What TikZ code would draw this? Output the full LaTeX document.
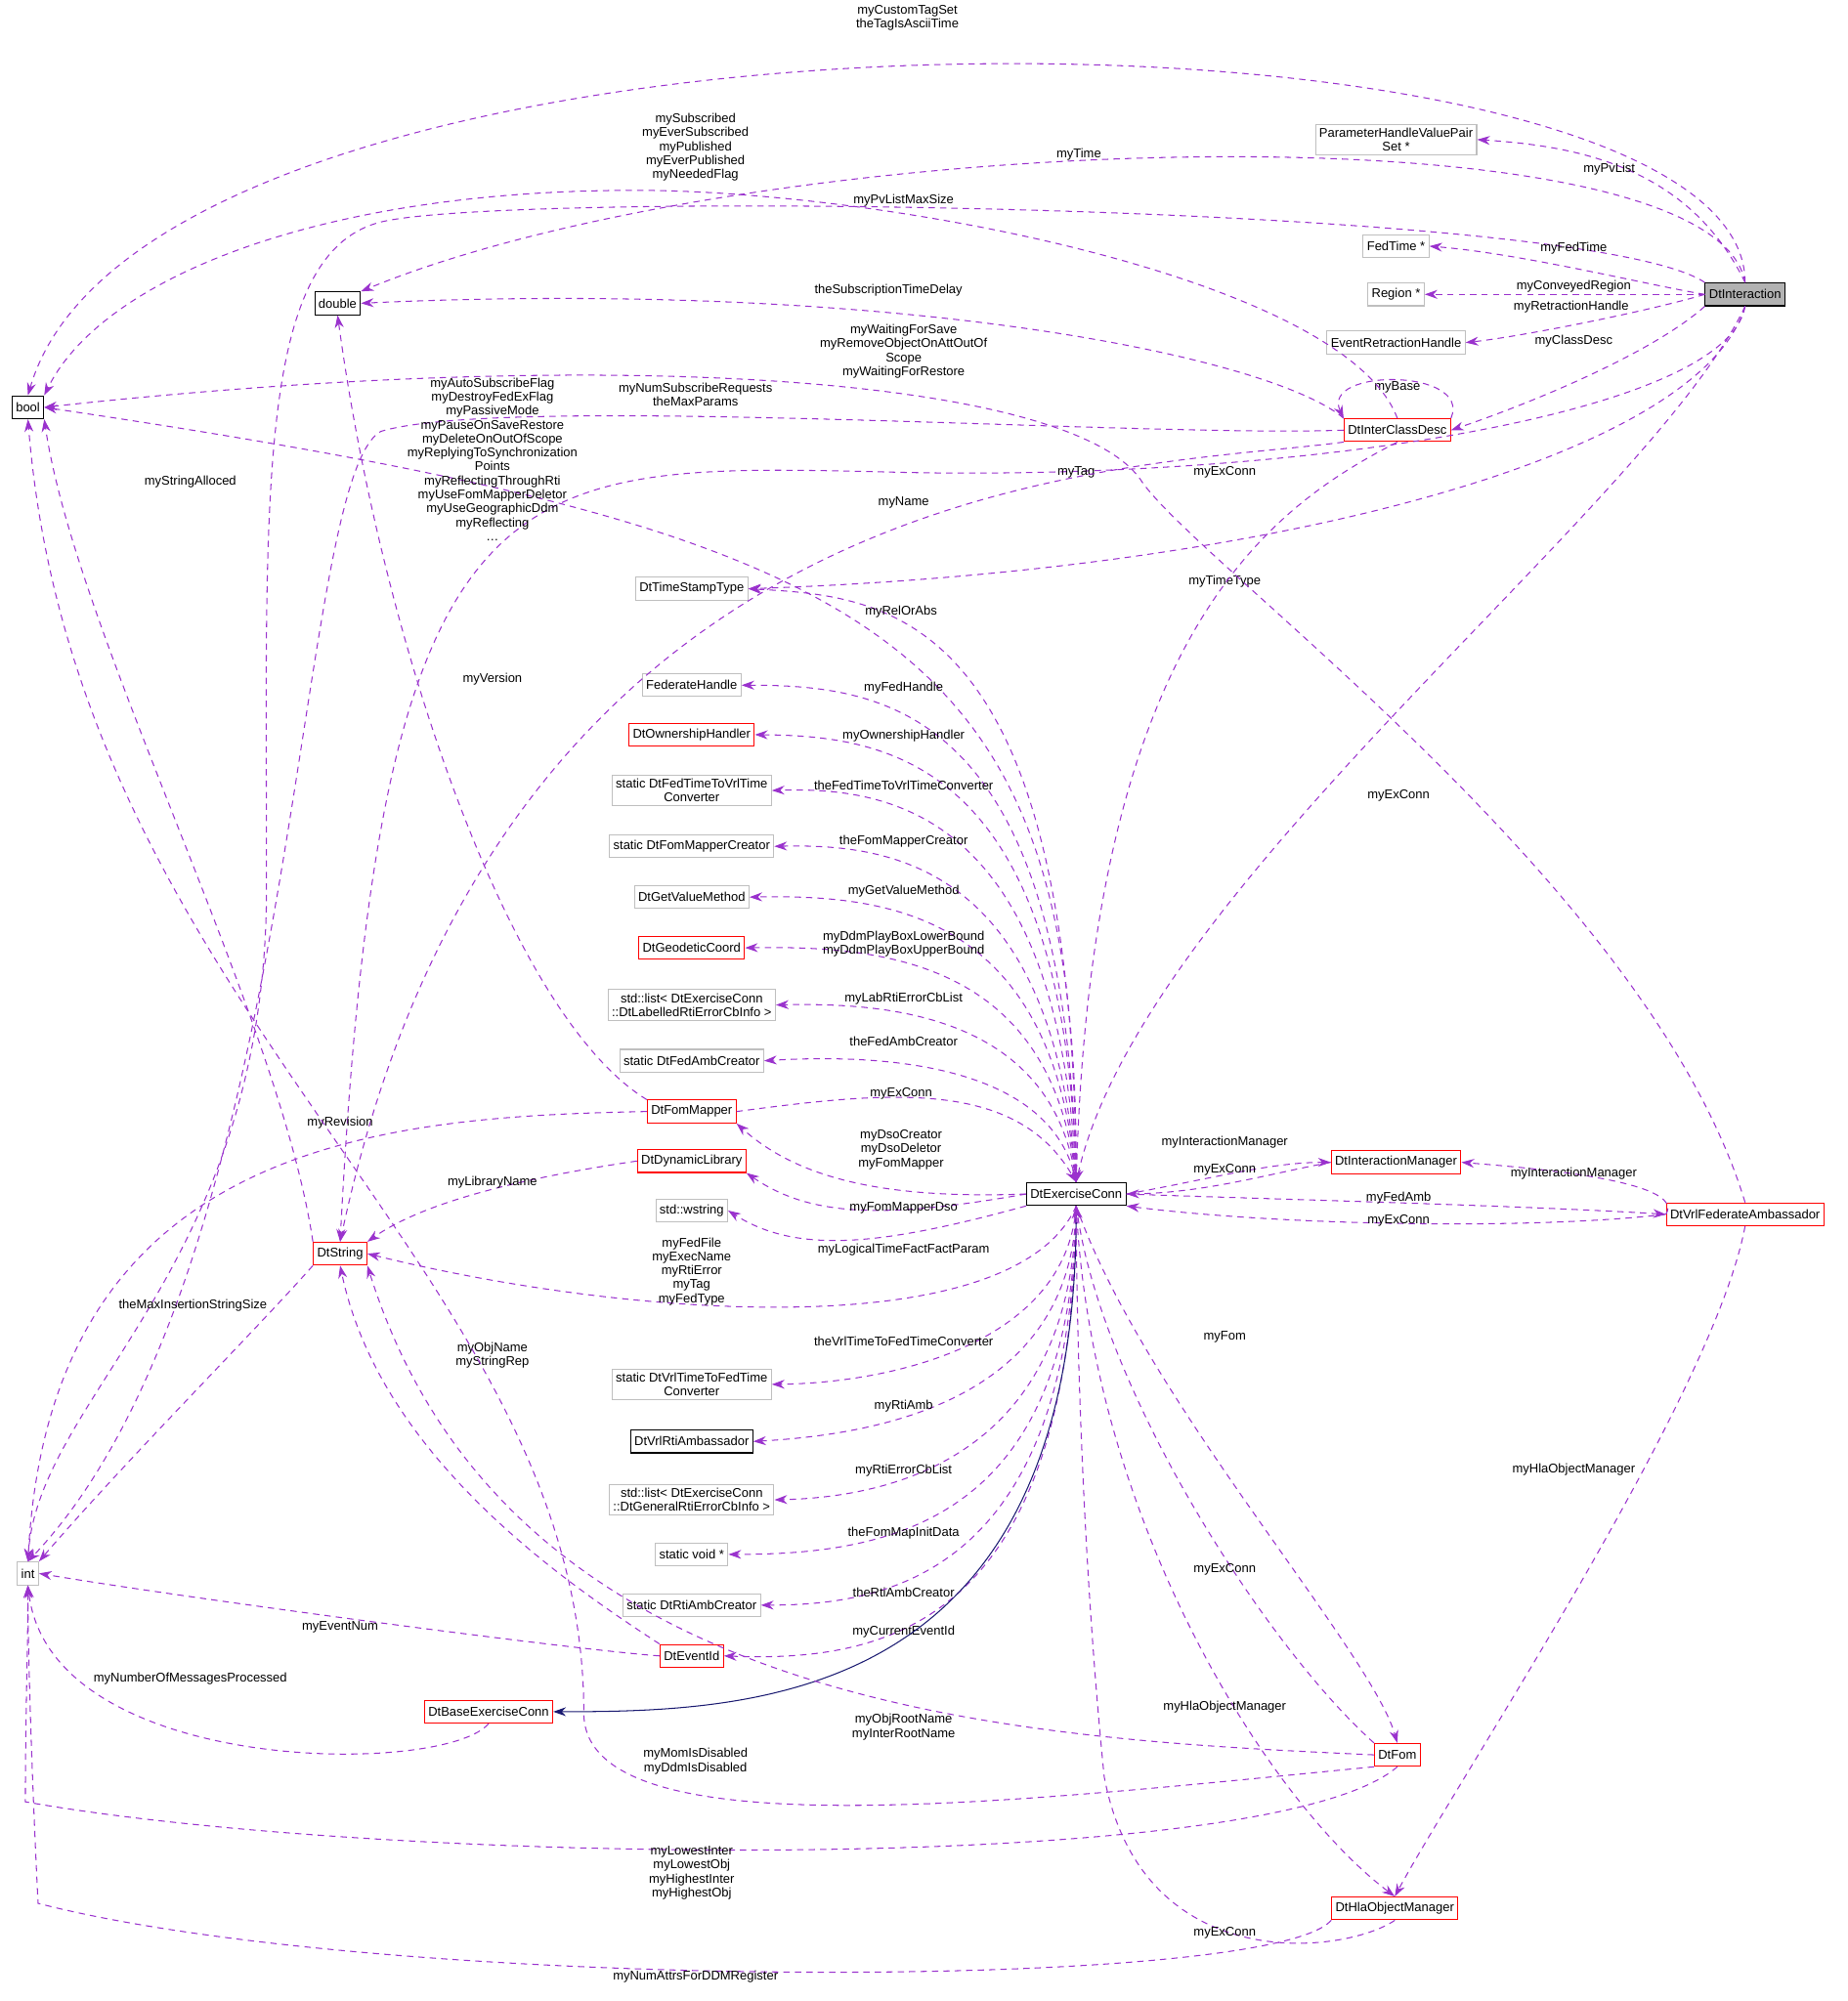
\documentclass[tikz,border=0pt]{standalone}
\usepackage{fontspec}
\setmainfont{Liberation Sans}
\usetikzlibrary{arrows.meta}
\definecolor{edgepurple}{HTML}{9A32CD}
\definecolor{basenavy}{HTML}{191970}
\tikzset{
  cls/.style={draw=black, thick, fill=white, inner sep=3pt, minimum height=18pt, font=\fontsize{10}{11}\selectfont, align=center},
  ext/.style={cls, draw=black!25},
  doc/.style={cls, draw=red},
  rel/.style={draw=edgepurple, dashed, dash pattern=on 5pt off 4pt, thick, -{Stealth[length=10pt,width=7pt]}},
  inh/.style={draw=basenavy, thick, -{Stealth[length=10pt,width=7pt]}},
  lbl/.style={font=\fontsize{10}{11}\selectfont, align=center, inner sep=0pt}
}
\begin{document}
\begin{tikzpicture}[x=1pt,y=-1pt]
\useasboundingbox (0,0) rectangle (1456,1577);
%classes
\node[cls] (bool) at (22,321) {bool};
\node[cls] (double) at (266,239) {double};
\node[ext] (int) at (22,1240) {int};
\node[ext] (pvpair) at (1100,110) {ParameterHandleValuePair\\Set *};
\node[ext] (fedtime) at (1100,194) {FedTime *};
\node[ext] (region) at (1100,232) {Region *};
\node[ext] (retract) at (1100,270) {EventRetractionHandle};
\node[cls, fill=black!30] (inter) at (1375,232) {DtInteraction};
\node[doc] (classdesc) at (1101,339) {DtInterClassDesc};
\node[ext] (stamp) at (545,464) {DtTimeStampType};
\node[ext] (fedhandle) at (545,540) {FederateHandle};
\node[doc] (ownership) at (545,579) {DtOwnershipHandler};
\node[ext] (fed2vrl) at (545,623) {static DtFedTimeToVrlTime\\Converter};
\node[ext] (mapcreator) at (545,667) {static DtFomMapperCreator};
\node[ext] (getvalue) at (545,707) {DtGetValueMethod};
\node[doc] (geodetic) at (545,747) {DtGeodeticCoord};
\node[ext] (lablist) at (545,792) {std::list\textless{} DtExerciseConn\\::DtLabelledRtiErrorCbInfo \textgreater};
\node[ext] (ambcreator) at (545,836) {static DtFedAmbCreator};
\node[doc] (mapper) at (545,876) {DtFomMapper};
\node[doc] (dynlib) at (545,915) {DtDynamicLibrary};
\node[ext] (wstring) at (545,954) {std::wstring};
\node[doc] (dtstring) at (268,988) {DtString};
\node[ext] (vrl2fed) at (545,1091) {static DtVrlTimeToFedTime\\Converter};
\node[cls] (rtiamb) at (545,1136) {DtVrlRtiAmbassador};
\node[ext] (genlist) at (545,1182) {std::list\textless{} DtExerciseConn\\::DtGeneralRtiErrorCbInfo \textgreater};
\node[ext] (voidp) at (545,1225) {static void *};
\node[ext] (rticreator) at (545,1265) {static DtRtiAmbCreator};
\node[doc] (eventid) at (545,1305) {DtEventId};
\node[doc] (baseconn) at (385,1349) {DtBaseExerciseConn};
\node[cls] (exconn) at (848,941) {DtExerciseConn};
\node[doc] (intermgr) at (1100,916) {DtInteractionManager};
\node[doc] (fedamb) at (1375,957) {DtVrlFederateAmbassador};
\node[doc] (fom) at (1101,1383) {DtFom};
\node[doc] (hlamgr) at (1099,1504) {DtHlaObjectManager};
%DtInteraction members
\draw[rel] (inter.north) .. controls (1375,-15) and (120,-25) .. (bool.north);
\node[lbl] at (715,14) {myCustomTagSet\\theTagIsAsciiTime};
\draw[rel] (inter.north) .. controls (1350,80) and (600,100) .. (double.north east);
\node[lbl] at (850,122) {myTime};
\draw[rel] (inter.north) .. controls (1330,130) and (1240,115) .. (pvpair.east);
\node[lbl] at (1268,133) {myPvList};
\draw[rel] (inter.north west) .. controls (1250,160) and (400,150) .. (300,175) .. controls (200,200) and (210,400) .. (210,700) .. controls (210,1000) and (30,1100) .. (int.north);
\node[lbl] at (712,158) {myPvListMaxSize};
\draw[rel] (inter.west) .. controls (1300,225) and (1200,200) .. (fedtime.east);
\node[lbl] at (1240,196) {myFedTime};
\draw[rel] (inter.west) -- (region.east);
\node[lbl] at (1240,226) {myConveyedRegion};
\draw[rel] (inter.west) .. controls (1300,245) and (1200,265) .. (retract.east);
\node[lbl] at (1238,242) {myRetractionHandle};
\draw[rel] (inter.south west) .. controls (1300,280) and (1200,320) .. (classdesc.east);
\node[lbl] at (1240,269) {myClassDesc};
\draw[rel] (inter.south) .. controls (1360,330) and (1000,380) .. (700,372) .. controls (400,365) and (300,360) .. (dtstring.north);
\node[lbl] at (848,372) {myTag};
\draw[rel] (inter.south) .. controls (1340,360) and (1000,450) .. (stamp.east);
\node[lbl] at (965,458) {myTimeType};
\draw[rel] (inter.south) .. controls (1300,400) and (900,700) .. (exconn.north);
\node[lbl] at (1102,627) {myExConn};
%DtInterClassDesc members
\draw[rel] (classdesc.north east) .. controls (1160,290) and (1040,290) .. (classdesc.north west);
\node[lbl] at (1101,305) {myBase};
\draw[rel] (classdesc.north west) .. controls (1000,280) and (700,220) .. (double.east);
\node[lbl] at (700,229) {theSubscriptionTimeDelay};
\draw[rel] (classdesc.north) .. controls (1060,220) and (700,150) .. (500,150) .. controls (250,150) and (80,220) .. (bool.north east);
\node[lbl] at (548,116) {mySubscribed\\myEverSubscribed\\myPublished\\myEverPublished\\myNeededFlag};
\draw[rel] (classdesc.west) .. controls (900,345) and (400,310) .. (300,340) .. controls (230,380) and (240,1000) .. (int.north);
\node[lbl] at (548,311) {myNumSubscribeRequests\\theMaxParams};
\draw[rel] (classdesc.south west) .. controls (900,370) and (400,360) .. (dtstring.north);
\node[lbl] at (712,396) {myName};
\draw[rel] (classdesc.south) .. controls (1000,400) and (860,500) .. (exconn.north);
\node[lbl] at (965,372) {myExConn};
%DtExerciseConn members
\draw[rel] (exconn.north) .. controls (850,500) and (700,420) .. (bool.east);
\node[lbl] at (388,362) {myAutoSubscribeFlag\\myDestroyFedExFlag\\myPassiveMode\\myPauseOnSaveRestore\\myDeleteOnOutOfScope\\myReplyingToSynchronization\\Points\\myReflectingThroughRti\\myUseFomMapperDeletor\\myUseGeographicDdm\\myReflecting\\\ldots};
\draw[rel] (exconn.north) .. controls (845,480) and (700,470) .. (stamp.east);
\node[lbl] at (710,482) {myRelOrAbs};
\draw[rel] (exconn.north) .. controls (840,560) and (700,540) .. (fedhandle.east);
\node[lbl] at (712,542) {myFedHandle};
\draw[rel] (exconn.north) .. controls (840,600) and (700,580) .. (ownership.east);
\node[lbl] at (712,580) {myOwnershipHandler};
\draw[rel] (exconn.north) .. controls (835,640) and (700,620) .. (fed2vrl.east);
\node[lbl] at (712,619) {theFedTimeToVrlTimeConverter};
\draw[rel] (exconn.north) .. controls (830,680) and (700,665) .. (mapcreator.east);
\node[lbl] at (712,663) {theFomMapperCreator};
\draw[rel] (exconn.north) .. controls (830,720) and (700,705) .. (getvalue.east);
\node[lbl] at (712,702) {myGetValueMethod};
\draw[rel] (exconn.north) .. controls (830,760) and (700,745) .. (geodetic.east);
\node[lbl] at (712,744) {myDdmPlayBoxLowerBound\\myDdmPlayBoxUpperBound};
\draw[rel] (exconn.north) .. controls (830,800) and (700,790) .. (lablist.east);
\node[lbl] at (712,787) {myLabRtiErrorCbList};
\draw[rel] (exconn.north) .. controls (830,840) and (700,830) .. (ambcreator.east);
\node[lbl] at (712,821) {theFedAmbCreator};
\draw[rel] (mapper.east) .. controls (700,860) and (800,850) .. (exconn.north);
\node[lbl] at (710,862) {myExConn};
\draw[rel] (exconn.west) .. controls (700,945) and (630,930) .. (mapper.south east);
\node[lbl] at (710,906) {myDsoCreator\\myDsoDeletor\\myFomMapper};
\draw[rel] (exconn.west) .. controls (700,960) and (640,960) .. (dynlib.south east);
\node[lbl] at (712,952) {myFomMapperDso};
\draw[rel] (exconn.south west) .. controls (700,980) and (630,990) .. (wstring.east);
\node[lbl] at (712,985) {myLogicalTimeFactFactParam};
\draw[rel] (exconn.south) .. controls (800,1060) and (500,1040) .. (dtstring.east);
\node[lbl] at (545,1002) {myFedFile\\myExecName\\myRtiError\\myTag\\myFedType};
\draw[rel] (exconn.south) .. controls (840,1060) and (700,1090) .. (vrl2fed.east);
\node[lbl] at (712,1057) {theVrlTimeToFedTimeConverter};
\draw[rel] (exconn.south) .. controls (845,1100) and (700,1130) .. (rtiamb.east);
\node[lbl] at (712,1108) {myRtiAmb};
\draw[rel] (exconn.south) .. controls (845,1150) and (700,1180) .. (genlist.east);
\node[lbl] at (712,1159) {myRtiErrorCbList};
\draw[rel] (exconn.south) .. controls (845,1200) and (700,1225) .. (voidp.east);
\node[lbl] at (712,1208) {theFomMapInitData};
\draw[rel] (exconn.south) .. controls (845,1240) and (700,1265) .. (rticreator.east);
\node[lbl] at (712,1255) {theRtiAmbCreator};
\draw[rel] (exconn.south) .. controls (845,1280) and (700,1310) .. (eventid.east);
\node[lbl] at (712,1286) {myCurrentEventId};
\draw[inh] (exconn.south) .. controls (850,1340) and (600,1349) .. (baseconn.east);
\draw[rel] (exconn.east) .. controls (950,930) and (1000,916) .. (intermgr.west);
\node[lbl] at (965,900) {myInteractionManager};
\draw[rel] (intermgr.west) .. controls (1000,925) and (950,940) .. (exconn.east);
\node[lbl] at (965,922) {myExConn};
\draw[rel] (exconn.east) .. controls (1000,945) and (1200,950) .. (fedamb.west);
\node[lbl] at (1102,944) {myFedAmb};
\draw[rel] (fedamb.west) .. controls (1200,970) and (1000,965) .. (exconn.south east);
\node[lbl] at (1102,962) {myExConn};
\draw[rel] (exconn.south) .. controls (900,1100) and (1080,1300) .. (fom.north);
\node[lbl] at (965,1054) {myFom};
\draw[rel] (fom.north west) .. controls (1000,1300) and (870,1100) .. (exconn.south);
\node[lbl] at (965,1237) {myExConn};
\draw[rel] (exconn.south) .. controls (860,1200) and (1000,1420) .. (hlamgr.north);
\node[lbl] at (965,1345) {myHlaObjectManager};
\draw[rel] (hlamgr.south) .. controls (1060,1540) and (900,1560) .. (870,1400) .. controls (850,1200) and (848,1000) .. (exconn.south);
\node[lbl] at (965,1523) {myExConn};
%other members
\draw[rel] (fedamb.west) .. controls (1330,930) and (1200,920) .. (intermgr.east);
\node[lbl] at (1240,925) {myInteractionManager};
\draw[rel] (fedamb.south) .. controls (1350,1100) and (1150,1400) .. (hlamgr.north);
\node[lbl] at (1240,1158) {myHlaObjectManager};
\draw[rel] (fedamb.north) .. controls (1300,700) and (950,450) .. (900,380) .. controls (850,300) and (500,270) .. (bool.east);
\node[lbl] at (712,277) {myWaitingForSave\\myRemoveObjectOnAttOutOf\\Scope\\myWaitingForRestore};
\draw[rel] (mapper.north west) .. controls (400,800) and (300,500) .. (double.south);
\node[lbl] at (388,535) {myVersion};
\draw[rel] (mapper.west) .. controls (300,880) and (40,900) .. (int.north);
\node[lbl] at (268,885) {myRevision};
\draw[rel] (dynlib.west) .. controls (400,930) and (330,950) .. (dtstring.north east);
\node[lbl] at (388,932) {myLibraryName};
\draw[rel] (dtstring.north west) .. controls (220,800) and (60,500) .. (bool.south east);
\node[lbl] at (150,380) {myStringAlloced};
\draw[rel] (dtstring.south west) .. controls (200,1050) and (100,1150) .. (int.north east);
\node[lbl] at (152,1029) {theMaxInsertionStringSize};
\draw[rel] (eventid.west) .. controls (450,1300) and (150,1260) .. (int.east);
\node[lbl] at (268,1282) {myEventNum};
\draw[rel] (eventid.north west) .. controls (450,1250) and (300,1150) .. (dtstring.south);
\node[lbl] at (388,1068) {myObjName\\myStringRep};
\draw[rel] (baseconn.south) .. controls (350,1400) and (40,1400) .. (int.south);
\node[lbl] at (150,1323) {myNumberOfMessagesProcessed};
\draw[rel] (fom.west) .. controls (800,1370) and (400,1350) .. (dtstring.south east);
\node[lbl] at (712,1361) {myObjRootName\\myInterRootName};
\draw[rel] (fom.south west) .. controls (800,1420) and (460,1460) .. (460,1350) .. controls (460,1000) and (60,800) .. (bool.south);
\node[lbl] at (548,1388) {myMomIsDisabled\\myDdmIsDisabled};
\draw[rel] (fom.south) .. controls (1000,1480) and (300,1470) .. (20,1420) .. controls (20,1350) and (22,1300) .. (int.south);
\node[lbl] at (545,1476) {myLowestInter\\myLowestObj\\myHighestInter\\myHighestObj};
\draw[rel] (hlamgr.south west) .. controls (1000,1570) and (300,1570) .. (30,1500) .. controls (25,1400) and (22,1300) .. (int.south);
\node[lbl] at (548,1558) {myNumAttrsForDDMRegister};
\end{tikzpicture}
\end{document}
